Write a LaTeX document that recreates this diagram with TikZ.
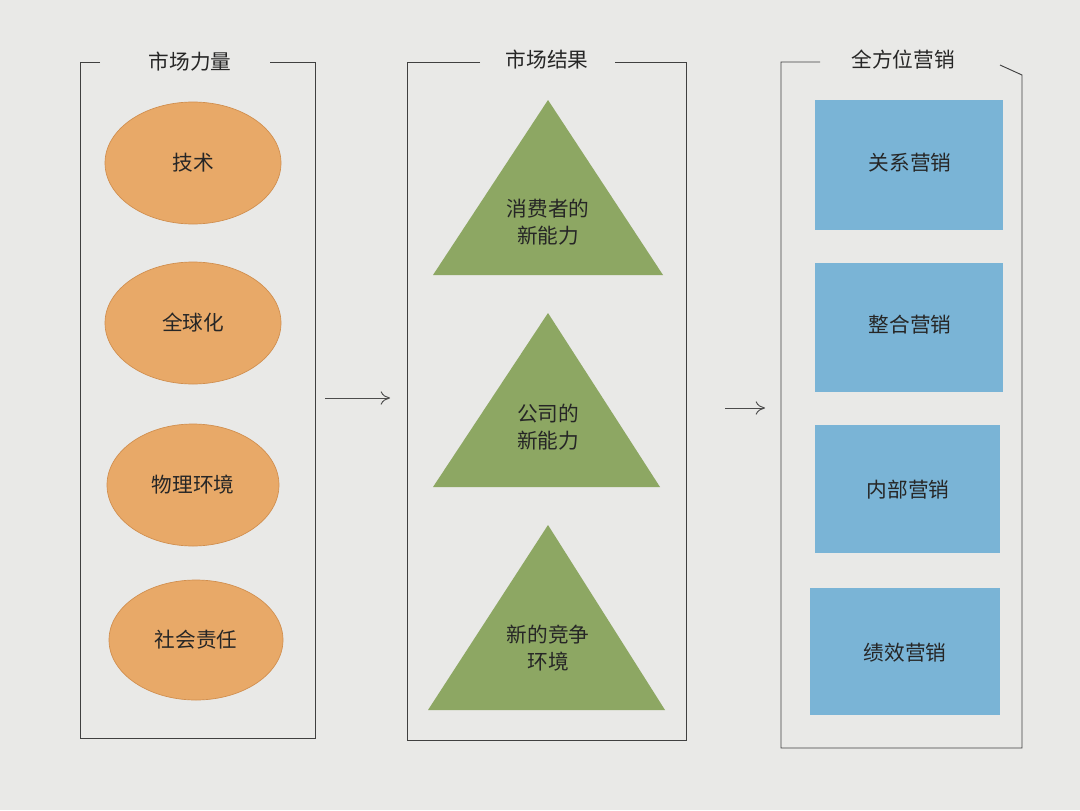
\documentclass[tikz,border=0pt]{standalone}
\usepackage{fontspec}
\usetikzlibrary{arrows.meta}
\setmainfont{Noto Sans CJK SC}
\definecolor{paper}{HTML}{E9E9E7}
\definecolor{orng}{HTML}{E8A968}
\definecolor{orngd}{HTML}{D08E4E}
\definecolor{grn}{HTML}{8DA763}
\definecolor{blu}{HTML}{7AB4D6}
\begin{document}
\begin{tikzpicture}[x=0.75pt,y=-0.75pt,
  frame/.style={draw=black!75,line width=0.7pt},
  lbl/.style={font=\fontsize{15.5}{20}\selectfont,text=black!85,align=center},
  ttl/.style={font=\fontsize{15.5}{20}\selectfont,text=black!85},
  arr/.style={-{To[length=7pt,width=10pt]},line width=0.7pt,black!70}]
\fill[paper] (0,0) rectangle (1080,810);
\useasboundingbox (0,0) rectangle (1080,810);
% panel 1
\node[ttl] (t1) at (190,62) {市场力量};
\draw[frame] (100,62) -- (80,62) -- (80,738) -- (315,738) -- (315,62) -- (270,62);
\fill[orng,draw=orngd,line width=0.5pt] (193,163) ellipse (88 and 61);
\fill[orng,draw=orngd,line width=0.5pt] (193,323) ellipse (88 and 61);
\fill[orng,draw=orngd,line width=0.5pt] (193,485) ellipse (86 and 61);
\fill[orng,draw=orngd,line width=0.5pt] (196,640) ellipse (87 and 60);
\node[lbl] (e1) at (193,163) {技术};
\node[lbl] (e2) at (193,323) {全球化};
\node[lbl] (e3) at (193,485) {物理环境};
\node[lbl] (e4) at (196,640) {社会责任};
% panel 2
\node[ttl] (t2) at (547,60) {市场结果};
\draw[frame] (480,62) -- (407,62) -- (407,740) -- (686,740) -- (686,62) -- (615,62);
\fill[grn] (548,100) -- (663,275) -- (433,275) -- cycle;
\fill[grn] (548,313) -- (660,487) -- (433,487) -- cycle;
\fill[grn] (548,525) -- (665,710) -- (428,710) -- cycle;
\node[lbl] (g1) at (548,222) {消费者的\\新能力};
\node[lbl] (g2) at (548,427) {公司的\\新能力};
\node[lbl] (g3) at (548,648) {新的竞争\\环境};
% panel 3
\node[ttl] (t3) at (903,60) {全方位营销};
\draw[frame] (820,62) -- (781,62) -- (781,748) -- (1022,748) -- (1022,75) -- (1000,65);
\fill[blu] (815,100) rectangle (1003,230);
\fill[blu] (815,263) rectangle (1003,392);
\fill[blu] (815,425) rectangle (1000,553);
\fill[blu] (810,588) rectangle (1000,715);
\node[lbl] (b1) at (910,163) {关系营销};
\node[lbl] (b2) at (910,325) {整合营销};
\node[lbl] (b3) at (908,490) {内部营销};
\node[lbl] (b4) at (905,653) {绩效营销};
% arrows
\coordinate (a1) at (325,398); \coordinate (a2) at (390,398);
\coordinate (a3) at (725,408); \coordinate (a4) at (765,408);
\draw[arr] (a1) -- (a2);
\draw[arr] (a3) -- (a4);
\end{tikzpicture}
\end{document}
